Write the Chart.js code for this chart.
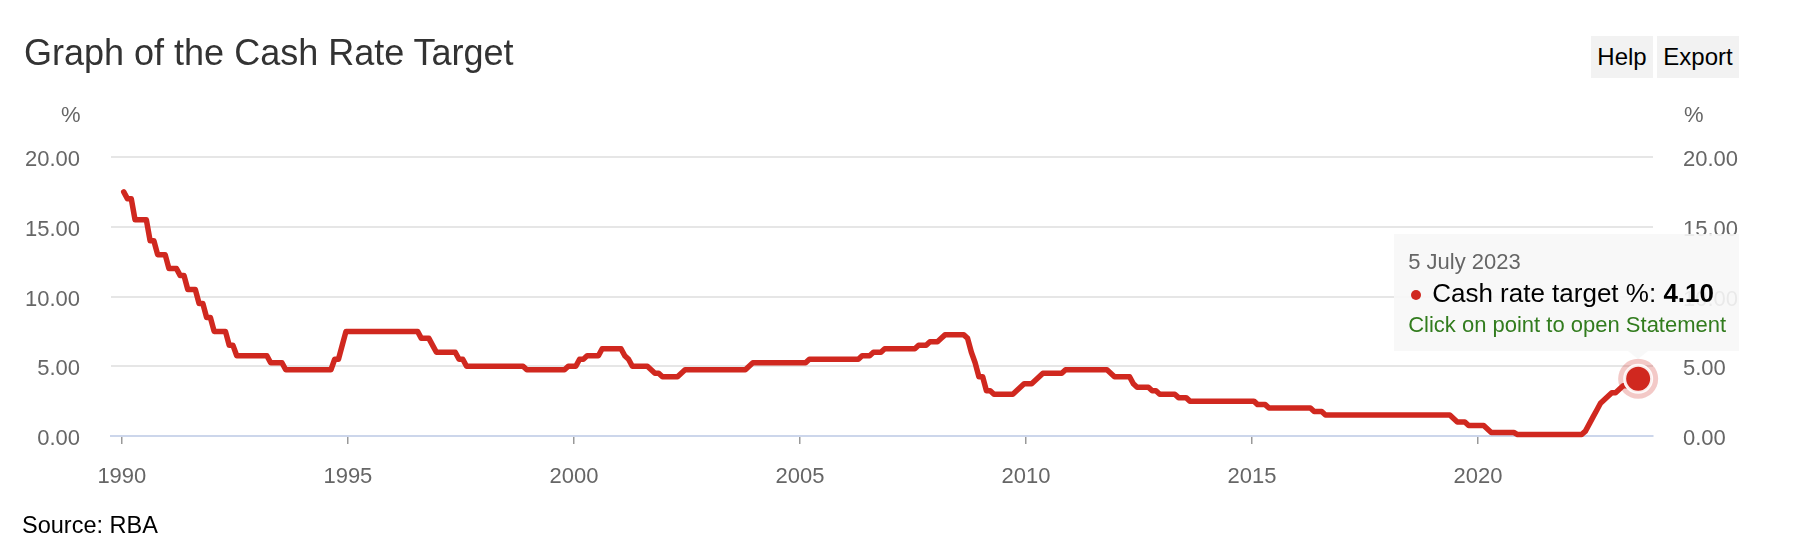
<!DOCTYPE html>
<html lang="en">
<head>
<meta charset="UTF-8">
<title>Graph of the Cash Rate Target</title>
<script src="https://cdn.jsdelivr.net/npm/chart.js@4"></script>
<style>
  body {
    margin: 0;
    width: 1808px;
    height: 550px;
    overflow: hidden;
    background: #fff;
    position: relative;
    font-family: "Liberation Sans", Arial, Helvetica, sans-serif;
  }
  #chart { position: absolute; left: 0; top: 0; }
  .txt { position: absolute; white-space: nowrap; }
  .title { left: 24px; top: 35px; font-size: 36px; line-height: 36px; color: #333; }
  .unit { top: 104px; font-size: 22px; line-height: 22px; color: #666; }
  .btn {
    position: absolute; top: 36px; height: 42px;
    background: #f2f2f2; color: #000;
    font-size: 24px; line-height: 42px; text-align: center;
  }
  .source { left: 22px; top: 513px; font-size: 23.5px; line-height: 24px; color: #000; }
  #tip {
    position: absolute; width: 345px; height: 117px;
    background: rgba(247, 247, 247, 0.9);
  }
  #tip:after {
    content: ''; position: absolute; left: 234px; top: 117px;
    border-left: 10px solid transparent; border-right: 10px solid transparent;
    border-top: 8px solid rgba(247, 247, 247, 0.9);
  }
  #tip .line { position: absolute; white-space: nowrap; }
  #tip .date { left: 14px; top: 17px; font-size: 22px; line-height: 22px; color: #666; }
  #tip .body { left: 38px; top: 46px; font-size: 26px; line-height: 26px; color: #000; }
  #tip .foot { left: 14px; top: 80px; font-size: 22px; line-height: 22px; color: #327c1e; }
  #tip .dot {
    position: absolute; left: 17px; top: 56px; width: 10px; height: 10px;
    border-radius: 50%; background: #d0281f;
  }
</style>
</head>
<body>
<canvas id="chart" width="1808" height="550"></canvas>

<div class="txt title">Graph of the Cash Rate Target</div>
<div class="txt unit" style="left:61px">%</div>
<div class="txt unit" style="left:1684px">%</div>
<div class="btn" style="left:1591px; width:62px">Help</div>
<div class="btn" style="left:1657px; width:82px">Export</div>
<div class="txt source">Source: RBA</div>

<div id="tip">
  <div class="line date">5 July 2023</div>
  <div class="dot"></div>
  <div class="line body">Cash rate target %: <b>4.10</b></div>
  <div class="line foot">Click on point to open Statement</div>
</div>

<script>
// Cash rate target, one value per month (mid-month), starting January of each decade
const startYear = 1990;

const rates1990s = [
  17.5, 17.0, 17.0, 15.5, 15.5, 15.5, 15.5, 14.0, 14.0, 13.0, 13.0, 13.0,
  12.0, 12.0, 12.0, 11.5, 11.5, 10.5, 10.5, 10.5, 9.5, 9.5, 8.5, 8.5,
  7.5, 7.5, 7.5, 7.5, 6.5, 6.5, 5.75, 5.75, 5.75, 5.75, 5.75, 5.75,
  5.75, 5.75, 5.75, 5.25, 5.25, 5.25, 5.25, 4.75, 4.75, 4.75, 4.75, 4.75,
  4.75, 4.75, 4.75, 4.75, 4.75, 4.75, 4.75, 4.75, 5.5, 5.5, 6.5, 7.5,
  7.5, 7.5, 7.5, 7.5, 7.5, 7.5, 7.5, 7.5, 7.5, 7.5, 7.5, 7.5,
  7.5, 7.5, 7.5, 7.5, 7.5, 7.5, 7.5, 7.0, 7.0, 7.0, 6.5, 6.0,
  6.0, 6.0, 6.0, 6.0, 6.0, 5.5, 5.5, 5.0, 5.0, 5.0, 5.0, 5.0,
  5.0, 5.0, 5.0, 5.0, 5.0, 5.0, 5.0, 5.0, 5.0, 5.0, 5.0, 4.75,
  4.75, 4.75, 4.75, 4.75, 4.75, 4.75, 4.75, 4.75, 4.75, 4.75, 5.0, 5.0
];

const rates2000s = [
  5.0, 5.5, 5.5, 5.75, 5.75, 5.75, 5.75, 6.25, 6.25, 6.25, 6.25, 6.25,
  6.25, 5.75, 5.5, 5.0, 5.0, 5.0, 5.0, 5.0, 4.75, 4.5, 4.5, 4.25,
  4.25, 4.25, 4.25, 4.25, 4.5, 4.75, 4.75, 4.75, 4.75, 4.75, 4.75, 4.75,
  4.75, 4.75, 4.75, 4.75, 4.75, 4.75, 4.75, 4.75, 4.75, 4.75, 5.0, 5.25,
  5.25, 5.25, 5.25, 5.25, 5.25, 5.25, 5.25, 5.25, 5.25, 5.25, 5.25, 5.25,
  5.25, 5.25, 5.5, 5.5, 5.5, 5.5, 5.5, 5.5, 5.5, 5.5, 5.5, 5.5,
  5.5, 5.5, 5.5, 5.5, 5.75, 5.75, 5.75, 6.0, 6.0, 6.0, 6.25, 6.25,
  6.25, 6.25, 6.25, 6.25, 6.25, 6.25, 6.25, 6.5, 6.5, 6.5, 6.75, 6.75,
  6.75, 7.0, 7.25, 7.25, 7.25, 7.25, 7.25, 7.25, 7.0, 6.0, 5.25, 4.25,
  4.25, 3.25, 3.25, 3.0, 3.0, 3.0, 3.0, 3.0, 3.0, 3.25, 3.5, 3.75
];

const rates2010s = [
  3.75, 3.75, 4.0, 4.25, 4.5, 4.5, 4.5, 4.5, 4.5, 4.5, 4.75, 4.75,
  4.75, 4.75, 4.75, 4.75, 4.75, 4.75, 4.75, 4.75, 4.75, 4.75, 4.5, 4.25,
  4.25, 4.25, 4.25, 4.25, 3.75, 3.5, 3.5, 3.5, 3.5, 3.25, 3.25, 3.0,
  3.0, 3.0, 3.0, 3.0, 2.75, 2.75, 2.75, 2.5, 2.5, 2.5, 2.5, 2.5,
  2.5, 2.5, 2.5, 2.5, 2.5, 2.5, 2.5, 2.5, 2.5, 2.5, 2.5, 2.5,
  2.5, 2.25, 2.25, 2.25, 2.0, 2.0, 2.0, 2.0, 2.0, 2.0, 2.0, 2.0,
  2.0, 2.0, 2.0, 2.0, 1.75, 1.75, 1.75, 1.5, 1.5, 1.5, 1.5, 1.5,
  1.5, 1.5, 1.5, 1.5, 1.5, 1.5, 1.5, 1.5, 1.5, 1.5, 1.5, 1.5,
  1.5, 1.5, 1.5, 1.5, 1.5, 1.5, 1.5, 1.5, 1.5, 1.5, 1.5, 1.5,
  1.5, 1.5, 1.5, 1.5, 1.5, 1.25, 1.0, 1.0, 1.0, 0.75, 0.75, 0.75
];

const rates2020s = [
  0.75, 0.75, 0.5, 0.25, 0.25, 0.25, 0.25, 0.25, 0.25, 0.25, 0.1, 0.1,
  0.1, 0.1, 0.1, 0.1, 0.1, 0.1, 0.1, 0.1, 0.1, 0.1, 0.1, 0.1,
  0.1, 0.1, 0.1, 0.1, 0.35, 0.85, 1.35, 1.85, 2.35, 2.6, 2.85, 3.1,
  3.1, 3.35, 3.6, 3.6, 3.85, 4.1, 4.1
];

const yearTicks = [1990, 1995, 2000, 2005, 2010, 2015, 2020];
const rateTicks = [0, 5, 10, 15, 20];

const RED = '#d0281f';
const LABEL = { size: 22, family: '"Liberation Sans", Arial, sans-serif' };

const rates = rates1990s.concat(rates2000s, rates2010s, rates2020s);
const points = rates.map((v, i) => ({ x: startYear + (i + 0.5) / 12, y: v }));
const lastIndex = points.length - 1;

// halo behind the selected point, then the point again on top; tooltip box follows the point
const selectedPoint = {
  id: 'selectedPoint',
  afterDatasetsDraw(chart) {
    const pt = chart.getDatasetMeta(0).data[lastIndex];
    const ctx = chart.ctx;
    ctx.save();
    ctx.fillStyle = 'rgba(208, 40, 31, 0.25)';
    ctx.beginPath();
    ctx.arc(pt.x, pt.y, 20, 0, Math.PI * 2);
    ctx.fill();
    ctx.restore();
    pt.draw(ctx, chart.chartArea);
  },
  afterDraw(chart) {
    const pt = chart.getDatasetMeta(0).data[lastIndex];
    const tip = document.getElementById('tip');
    tip.style.left = (pt.x - 244) + 'px';
    tip.style.top = (pt.y - 145) + 'px';
  }
};

new Chart(document.getElementById('chart'), {
  type: 'line',
  data: {
    datasets: [{
      label: 'Cash rate target %',
      data: points,
      borderColor: RED,
      borderWidth: 5.5,
      borderJoinStyle: 'round',
      borderCapStyle: 'round',
      tension: 0,
      fill: false,
      clip: false,
      pointRadius: ctx => ctx.dataIndex === lastIndex ? 13.5 : 0,
      pointBackgroundColor: RED,
      pointBorderColor: 'rgba(255, 255, 255, 0.9)',
      pointBorderWidth: 3
    }]
  },
  options: {
    responsive: false,
    animation: false,
    events: [],
    layout: { padding: { top: 157, right: 0, bottom: 0, left: 0 } },
    plugins: {
      legend: { display: false },
      tooltip: { enabled: false }
    },
    scales: {
      x: {
        type: 'linear',
        min: 1989.76,
        max: 2023.87,
        afterFit: s => { s.height = 114; },
        afterBuildTicks: s => { s.ticks = yearTicks.map(v => ({ value: v })); },
        border: { display: true, color: '#ccd6eb', width: 2 },
        grid: { drawOnChartArea: false, drawTicks: true, tickLength: 8, color: '#999', lineWidth: 1.5 },
        ticks: {
          autoSkip: false, maxRotation: 0, padding: 20,
          color: '#666', font: LABEL,
          callback: v => String(v)
        }
      },
      y: {
        position: 'left',
        min: 0,
        max: 20,
        afterFit: s => { s.width = 111; },
        afterBuildTicks: s => { s.ticks = rateTicks.map(v => ({ value: v })); },
        border: { display: false },
        grid: {
          drawTicks: false,
          lineWidth: 2,
          color: ctx => ctx.tick && ctx.tick.value === 0 ? '#ccd6eb' : '#e6e6e6'
        },
        ticks: {
          padding: 31, labelOffset: 3,
          color: '#666', font: LABEL,
          callback: v => v.toFixed(2)
        }
      },
      yRight: {
        position: 'right',
        min: 0,
        max: 20,
        afterFit: s => { s.width = 155; },
        afterBuildTicks: s => { s.ticks = rateTicks.map(v => ({ value: v })); },
        border: { display: false },
        grid: { display: false, drawTicks: false },
        ticks: {
          padding: 30, labelOffset: 3,
          color: '#666', font: LABEL,
          callback: v => v.toFixed(2)
        }
      }
    }
  },
  plugins: [selectedPoint]
});
</script>
</body>
</html>
